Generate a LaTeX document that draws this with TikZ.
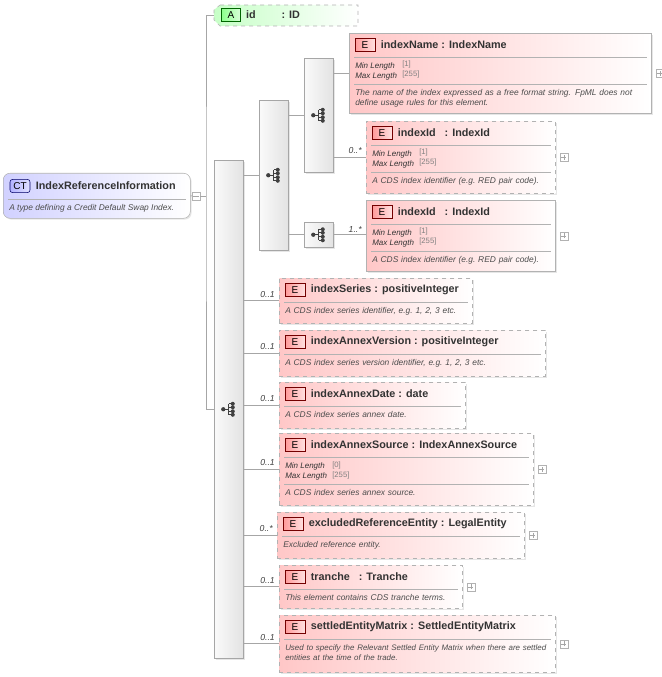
\documentclass[tikz,border=0pt]{standalone}
\usepackage{fontspec}
\setmainfont{Liberation Sans}
\usetikzlibrary{shadows}

\newcommand\descfont{\itshape\fontsize{6.3}{7.6}\selectfont\hyphenpenalty 10000\relax}

\tikzset{
	conn/.style={gray!70, line width=.6pt},
	bar/.style={draw=gray!70, left color=gray!4, right color=gray!22, inner sep=0pt, drop shadow={opacity=.2, shadow xshift=1pt, shadow yshift=-1pt}},
	elem/.style={draw=gray!60, left color=red!22, right color=white, inner sep=0pt, drop shadow={opacity=.2, shadow xshift=1pt, shadow yshift=-1pt}},
	opt/.style={elem, dashed},
	badge/.style={draw=red!45!black, left color=red!40, right color=red!12, font=\fontsize{7.5}{8}\selectfont, minimum width=15pt, minimum height=10pt, inner sep=0pt},
	title/.style={font=\bfseries\fontsize{8.1}{9}\selectfont, text=black!80, inner sep=1pt, xshift=3pt},
	sep/.style={gray!60, line width=.5pt},
	desc/.style={font=\descfont, text=black!70, inner sep=0pt, align=left},
	facet/.style={font=\itshape\fontsize{6}{6.5}\selectfont, text=black!80, inner sep=0pt},
	fval/.style={font=\fontsize{5.8}{6}\selectfont, text=gray, inner sep=0pt},
	mult/.style={font=\itshape\fontsize{6.5}{7}\selectfont, text=black!75, inner sep=0pt},
	plus/.style={draw=gray!60, fill=white, minimum size=6pt, inner sep=0pt,
		path picture={\draw[gray!70] ([xshift=1pt]path picture bounding box.west) -- ([xshift=-1pt]path picture bounding box.east)
		([yshift=1pt]path picture bounding box.south) -- ([yshift=-1pt]path picture bounding box.north);}},
}

% element box: name, x, y, w, h, style
\newcommand\ebox[6]{\node[#6, minimum width=#4*0.75pt, minimum height=#5*0.75pt, anchor=north west] (#1) at (#2,#3) {};}
% title row and first separator
\newcommand\etitle[2]{%
	\node[badge] (#1-b) at ([shift={(16,12)}]#1.north west) {E};
	\node[title, anchor=west] at (#1-b.east) {#2};
	\draw[sep] ([shift={(5,24)}]#1.north west) -- ([shift={(-5,24)}]#1.north east);}
% description: name, y offset, width, text
\newcommand\edesc[4]{\node[desc, anchor=north west, text width=#3*0.75pt] at ([shift={(6,#2)}]#1.north west) {#4};}
% facets: name, min, max
\newcommand\efacets[3]{%
	\node[facet, anchor=west] at ([shift={(6,33)}]#1.north west) {Min Length};
	\node[facet, anchor=west] at ([shift={(6,43)}]#1.north west) {Max Length};
	\node[fval, anchor=west] at ([shift={(53,32)}]#1.north west) {[#2]};
	\node[fval, anchor=west] at ([shift={(53,42)}]#1.north west) {[#3]};
	\draw[sep] ([shift={(5,51)}]#1.north west) -- ([shift={(-5,51)}]#1.north east);}
% sequence icon
\newcommand\seqicon[1]{%
	\begin{scope}[shift={(#1)}, black!75]
		\fill (-5.5,0) circle[radius=1.6pt];
		\draw[line width=.7pt] (-5.5,0) -- (0,0) (0,-5.5) -- (0,5.5);
		\foreach \y in {-5.5,-2,2,5.5} {
			\draw[line width=.7pt] (0,\y) -- (3.5,\y);
			\fill (4,\y) circle[radius=1.5pt];
		}
	\end{scope}}

\begin{document}
\begin{tikzpicture}[x=0.75pt, y=-0.75pt]
	\useasboundingbox (0,0) rectangle (661,677);

	% complex type
	\node[draw=gray!60, rounded corners=5pt, left color=blue!18, right color=white, minimum width=187*0.75pt, minimum height=45*0.75pt, anchor=north west,
		drop shadow={opacity=.2, shadow xshift=1pt, shadow yshift=-1pt}] (ct) at (3,173) {};
	\node[draw=blue!40!black, rounded corners=2pt, left color=blue!30, right color=blue!12, font=\fontsize{7.5}{8}\selectfont, minimum width=15pt, minimum height=10pt, inner sep=0pt] (ct-b) at ([shift={(17,13)}]ct.north west) {CT};
	\node[title, anchor=west] at (ct-b.east) {IndexReferenceInformation};
	\draw[sep] ([shift={(5,26)}]ct.north west) -- ([shift={(-5,26)}]ct.north east);
	\node[desc, anchor=west] at ([shift={(6,35)}]ct.north west) {A type defining a Credit Default Swap Index.};
	\node[draw=gray!60, fill=white, minimum size=6pt, inner sep=0pt,
		path picture={\draw[gray!70] ([xshift=1pt]path picture bounding box.west) -- ([xshift=-1pt]path picture bounding box.east);}] (ctminus) at (196,196) {};
	\coordinate (fork) at (206,196);

	% attribute
	\draw[gray!60, dashed, left color=green!22, right color=white] (220,5) -- (358,5) -- (358,26) -- (220,26) -- (214,20) -- (214,10) -- cycle;
	\coordinate (idattr) at (214,15);
	\node[draw=green!40!black, left color=green!45, right color=green!15, font=\fontsize{7.5}{8}\selectfont, minimum width=14pt, minimum height=10pt, inner sep=0pt] (id-b) at (231,15) {A};
	\node[title, anchor=west] at (id-b.east) {id};
	\node[title, anchor=west] at (276,15) {: ID};

	% compositors
	\node[bar, minimum width=29*0.75pt, minimum height=498*0.75pt, anchor=north west] (main) at (214,160) {};
	\node[bar, minimum width=29*0.75pt, minimum height=150*0.75pt, anchor=north west] (choice) at (259,100) {};
	\node[bar, minimum width=29*0.75pt, minimum height=114*0.75pt, anchor=north west] (seqA) at (304,58) {};
	\node[bar, minimum width=29*0.75pt, minimum height=25*0.75pt, anchor=north west] (seqB) at (304,222) {};
	\seqicon{main.center}
	\seqicon{choice.center}
	\seqicon{seqA.center}
	\seqicon{seqB.center}

	% elements
	\ebox{name}{349}{33}{302}{80}{elem}
	\etitle{name}{indexName\ : IndexName}
	\efacets{name}{1}{255}
	\edesc{name}{56}{292}{The name of the index expressed as a free format string. FpML does not define usage rules for this element.}

	\ebox{idA}{366}{121}{189}{72}{opt}
	\etitle{idA}{indexId\ \ \ : IndexId}
	\efacets{idA}{1}{255}
	\edesc{idA}{56}{180}{A CDS index identifier (e.g.\ RED pair code).}

	\ebox{idB}{366}{200}{189}{71}{elem}
	\etitle{idB}{indexId\ \ \ : IndexId}
	\efacets{idB}{1}{255}
	\edesc{idB}{56}{180}{A CDS index identifier (e.g.\ RED pair code).}

	\ebox{series}{279}{278}{193}{45}{opt}
	\etitle{series}{indexSeries\ : positiveInteger}
	\edesc{series}{29}{185}{A CDS index series identifier, e.g.\ 1, 2, 3 etc.}

	\ebox{version}{279}{330}{266}{46}{opt}
	\etitle{version}{indexAnnexVersion\ : positiveInteger}
	\edesc{version}{29}{255}{A CDS index series version identifier, e.g.\ 1, 2, 3 etc.}

	\ebox{date}{279}{382}{186}{46}{opt}
	\etitle{date}{indexAnnexDate\ : date}
	\edesc{date}{29}{175}{A CDS index series annex date.}

	\ebox{source}{279}{433}{254}{72}{opt}
	\etitle{source}{indexAnnexSource\ : IndexAnnexSource}
	\efacets{source}{0}{255}
	\edesc{source}{56}{240}{A CDS index series annex source.}

	\ebox{excluded}{277}{512}{247}{46}{opt}
	\etitle{excluded}{excludedReferenceEntity\ : LegalEntity}
	\edesc{excluded}{29}{235}{Excluded reference entity.}

	\ebox{tranche}{279}{565}{183}{43}{opt}
	\etitle{tranche}{tranche\ \ \ : Tranche}
	\edesc{tranche}{29}{175}{This element contains CDS tranche terms.}

	\ebox{matrix}{279}{615}{276}{57}{opt}
	\etitle{matrix}{settledEntityMatrix\ : SettledEntityMatrix}
	\edesc{matrix}{29}{300}{\fontsize{5.95}{7.6}\selectfont Used to specify the Relevant Settled Entity Matrix when there are settled\\entities at the time of the trade.}

	% expand boxes
	\foreach \e in {name,idA,idB,source,excluded,tranche,matrix}
		\node[plus, anchor=west] at ([xshift=3pt]\e.east) {};

	% connectors
	\draw[conn] (ct.east) -- (ctminus.west);
	\draw[conn] (ctminus.east) -- (fork);
	\draw[conn] (idattr) -| (fork) |- (main.west);
	\draw[conn] (main.east |- choice.west) -- (choice.west);
	\draw[conn] (choice.east |- seqA.west) -- (seqA.west);
	\draw[conn] (choice.east |- seqB.west) -- (seqB.west);
	\draw[conn] (seqA.east |- name.west) -- (name.west);
	\draw[conn] (seqA.east |- idA.west) -- (idA.west);
	\draw[conn] (seqB.east) -- (seqB.east -| idB.west);
	\foreach \e in {series,version,date,source,excluded,tranche,matrix}
		\draw[conn] (main.east |- \e.west) -- (\e.west);

	% multiplicities
	\node[mult, anchor=south east] at ([shift={(-4,-3)}]idA.west) {0..*};
	\node[mult, anchor=south east] at ([shift={(-4,-3)}]idB.west) {1..*};
	\foreach \e/\m in {series/0..1,version/0..1,date/0..1,source/0..1,excluded/0..*,tranche/0..1,matrix/0..1}
		\node[mult, anchor=south east] at ([shift={(-4,-3)}]\e.west) {\m};
\end{tikzpicture}
\end{document}
